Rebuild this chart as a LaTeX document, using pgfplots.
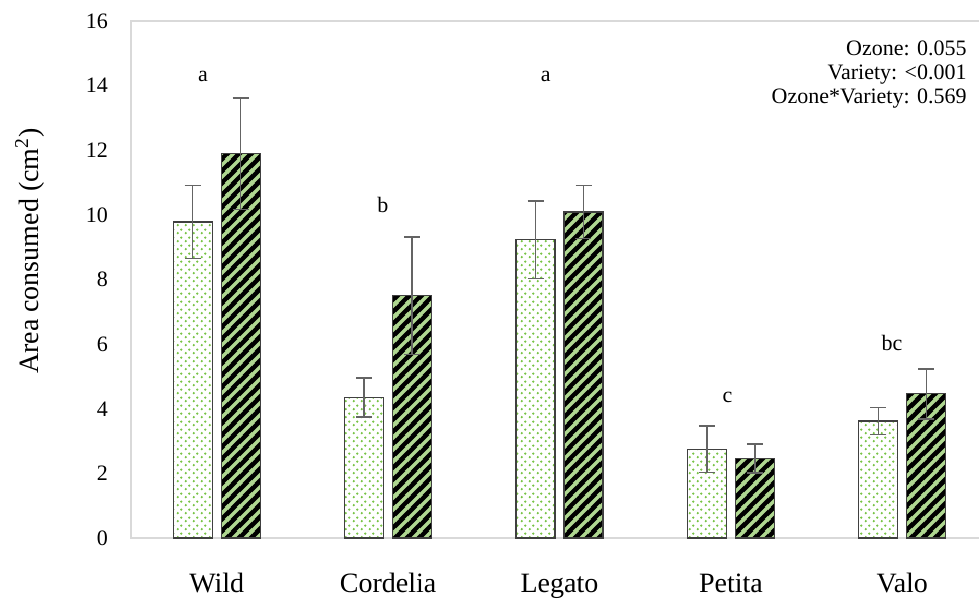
\documentclass[border=0pt]{standalone}
\usepackage{pgfplots}
\pgfplotsset{compat=1.18}
\usepackage{pgfplotstable}
\usepackage{fontspec}
\setmainfont{Liberation Serif}
\usetikzlibrary{patterns}
\definecolor{dotgreen}{RGB}{120,195,70}
\definecolor{stripegreen}{RGB}{175,215,145}
\definecolor{boxgray}{RGB}{217,217,217}
\definecolor{errgray}{RGB}{100,100,100}

\pgfdeclarepatternformonly{thickstripes}{\pgfqpoint{0pt}{0pt}}{\pgfqpoint{6pt}{6pt}}{\pgfqpoint{6pt}{6pt}}{%
  \pgfsetlinewidth{1.8pt}%
  \pgfpathmoveto{\pgfqpoint{-1pt}{-1pt}}\pgfpathlineto{\pgfqpoint{7pt}{7pt}}%
  \pgfpathmoveto{\pgfqpoint{-1pt}{5pt}}\pgfpathlineto{\pgfqpoint{1pt}{7pt}}%
  \pgfpathmoveto{\pgfqpoint{5pt}{-1pt}}\pgfpathlineto{\pgfqpoint{7pt}{1pt}}%
  \pgfusepath{stroke}}
\pgfdeclarepatternformonly{greendots}{\pgfqpoint{0pt}{0pt}}{\pgfqpoint{4pt}{4pt}}{\pgfqpoint{4pt}{4pt}}{%
  \pgfpathcircle{\pgfqpoint{1pt}{1pt}}{0.7pt}%
  \pgfpathcircle{\pgfqpoint{3pt}{3pt}}{0.7pt}%
  \pgfusepath{fill}}

\pgfplotstableread{
x y e
0 9.78 1.13
1 4.35 0.60
2 9.23 1.20
3 2.75 0.72
4 3.62 0.42
}\ambient
\pgfplotstableread{
x y e
0 11.89 1.72
1 7.50 1.82
2 10.09 0.82
3 2.46 0.45
4 4.46 0.77
}\ozone

\begin{document}
\begin{tikzpicture}
\begin{axis}[
  at={(65.5pt,32pt)}, anchor=south west,
  scale only axis, width=428.5pt, height=258.5pt,
  xmin=-0.5, xmax=4.5, ymin=0, ymax=16,
  xtick={0,1,2,3,4},
  xticklabels={Wild,Cordelia,Legato,Petita,Valo},
  ytick={0,2,...,16},
  axis line style={draw=boxgray, line width=0.8pt},
  tick style={draw=none},
  major tick length=0pt,
  /pgf/number format/assume math mode=true,
  yticklabel style={font=\fontsize{11}{12}\selectfont, anchor=east, xshift=-8pt},
  xticklabel style={font=\fontsize{14}{16}\selectfont, anchor=base, yshift=-27pt},
  ylabel={Area consumed (cm\textsuperscript{2})},
  ylabel style={font=\fontsize{14}{16}\selectfont, at={(axis description cs:-0.118,0.555)}, anchor=center, rotate=0},
  clip=false,
]
% ambient: dotted bars
\addplot[ybar, bar width=19.5pt, bar shift=0pt,
  draw=black!75, line width=0.6pt, pattern=greendots, pattern color=dotgreen,
  error bars/.cd, y dir=both, y explicit,
  error bar style={line width=0.75pt, errgray},
  error mark options={rotate=90, mark size=4pt, line width=0.75pt, errgray}]
  table[x expr=\thisrow{x}-0.14, y=y, y error=e]{\ambient};
% ozone: black bars with green stripes
\addplot[ybar, bar width=19.5pt, bar shift=0pt,
  draw=black!75, line width=0.6pt, fill=black, forget plot]
  table[x expr=\thisrow{x}+0.14, y=y]{\ozone};
\addplot[ybar, bar width=19.5pt, bar shift=0pt,
  draw=black!75, line width=0.6pt, pattern=thickstripes, pattern color=stripegreen,
  error bars/.cd, y dir=both, y explicit,
  error bar style={line width=0.75pt, errgray},
  error mark options={rotate=90, mark size=4pt, line width=0.75pt, errgray}]
  table[x expr=\thisrow{x}+0.14, y=y, y error=e]{\ozone};
\begin{scope}[every node/.style={font=\fontsize{11}{12}\selectfont}]
\node at (axis cs:-0.08,14.27) {a};
\node at (axis cs:0.97,10.31) {b};
\node at (axis cs:1.92,14.27) {a};
\node at (axis cs:2.98,4.36) {c};
\node at (axis cs:3.94,6.03) {bc};
\node[anchor=base east, inner sep=0pt] at (axis cs:4.377,14.92) {Ozone: 0.055};
\node[anchor=base east, inner sep=0pt] at (axis cs:4.377,14.19) {Variety: <0.001};
\node[anchor=base east, inner sep=0pt] at (axis cs:4.377,13.45) {Ozone*Variety: 0.569};
\end{scope}
\end{axis}
\pgfresetboundingbox
\path[use as bounding box] (0,0) rectangle (489.5pt,301pt);
\end{tikzpicture}
\end{document}
